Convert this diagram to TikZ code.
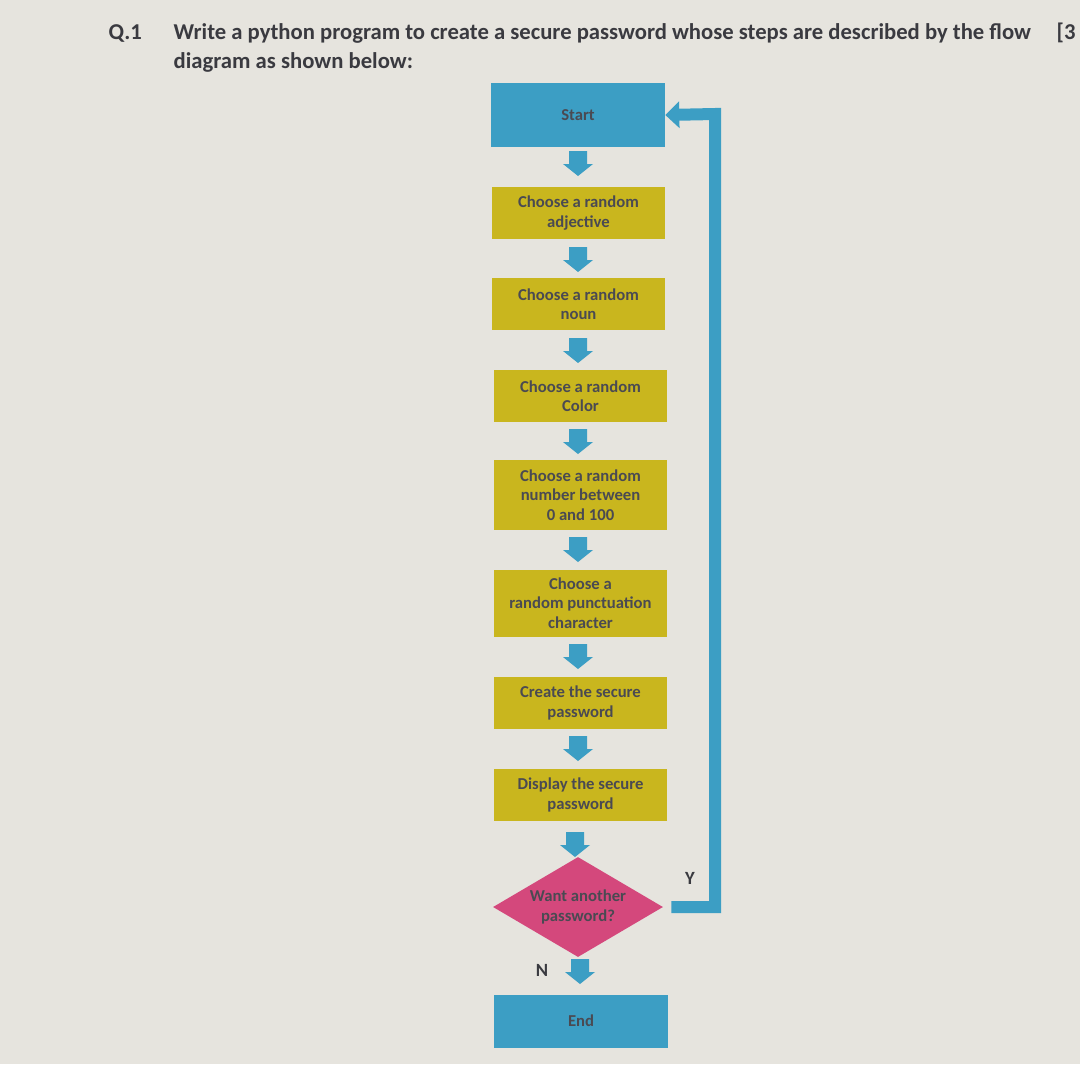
\documentclass[tikz,border=0pt]{standalone}
\usepackage{fontspec}
\setmainfont{Carlito}
\usetikzlibrary{shapes.geometric,arrows.meta}
\definecolor{bg}{HTML}{E6E4DE}
\definecolor{bluebox}{HTML}{3C9EC4}
\definecolor{yel}{HTML}{C9B61E}
\definecolor{pink}{HTML}{D4487C}
\definecolor{txt}{HTML}{3A3A40}
\definecolor{ltxt}{HTML}{4A4A52}
\tikzset{
 ybox/.style={fill=yel,minimum width=173*0.75pt,minimum height=52*0.75pt,align=center,font=\bfseries\fontsize{12.5}{14.5}\selectfont,text=ltxt,inner sep=0pt},
 bbox/.style={fill=bluebox,minimum width=174*0.75pt,minimum height=53*0.75pt,align=center,font=\bfseries\fontsize{12.5}{14.5}\selectfont,text=ltxt,inner sep=0pt},
 blockarrow/.pic={\fill[bluebox] (-9,-13) -- (9,-13) -- (9,0) -- (15,0) -- (0,12) -- (-15,0) -- (-9,0) -- cycle;},
 qtext/.style={font=\bfseries\fontsize{17}{19}\selectfont,text=txt,anchor=west}
}
\begin{document}
\begin{tikzpicture}[x=0.75pt,y=-0.75pt]
\fill[bg] (0,0) rectangle (1080,1064);
\useasboundingbox (0,0) rectangle (1080,1064);
\node[qtext] (q) at (104,33) {Q.1};
\node[qtext] (t1) at (169,33) {Write a python program to create a secure password whose steps are described by the flow};
\node[qtext] (t2) at (169,62) {diagram as shown below:};
\node[qtext] (mk) at (1052,33) {[3};
\node[bbox,minimum height=64*0.75pt] (start) at (578,115) {Start};
\node[ybox] (b1) at (578.5,213) {Choose a random\\adjective};
\node[ybox] (b2) at (578.5,304) {Choose a random\\noun};
\node[ybox] (b3) at (580.5,396) {Choose a random\\Color};
\node[ybox,minimum height=70*0.75pt] (b4) at (580.5,495) {Choose a random\\number between\\0 and 100};
\node[ybox,minimum height=67*0.75pt] (b5) at (580.5,603) {Choose a\\random punctuation\\character};
\node[ybox] (b6) at (580.5,703) {Create the secure\\password};
\node[ybox] (b7) at (580.5,795) {Display the secure\\password};
\node[diamond,fill=pink,minimum width=170*0.75pt,minimum height=100*0.75pt,aspect=1.7,inner sep=0pt,align=center,font=\bfseries\fontsize{12.5}{14.5}\selectfont,text=ltxt] (d) at (578,907) {Want another\\password?};
\node[bbox] (end) at (581,1021) {End};
\foreach \n/\x/\y in {a1/578/164,a2/578/260,a3/578/351,a4/578/442,a5/578/550,a6/578/657,a7/578/749,a8/575/845,a9/580/972}
  \pic (\n) at (\x,\y) {blockarrow};
\node[font=\bfseries\fontsize{14}{16}\selectfont,text=txt] (n) at (542,970) {N};
\node[font=\bfseries\fontsize{14}{16}\selectfont,text=txt] (y) at (690,878) {Y};
\coordinate (c1) at (715,907);
\coordinate (c2) at (715,114);
\draw[bluebox,line width=12*0.75pt,-{Triangle[length=14*0.75pt,width=26*0.75pt]}] (d.east)++(8,0) -- (c1) -- (c2) -- (start.east);
\end{tikzpicture}
\end{document}
